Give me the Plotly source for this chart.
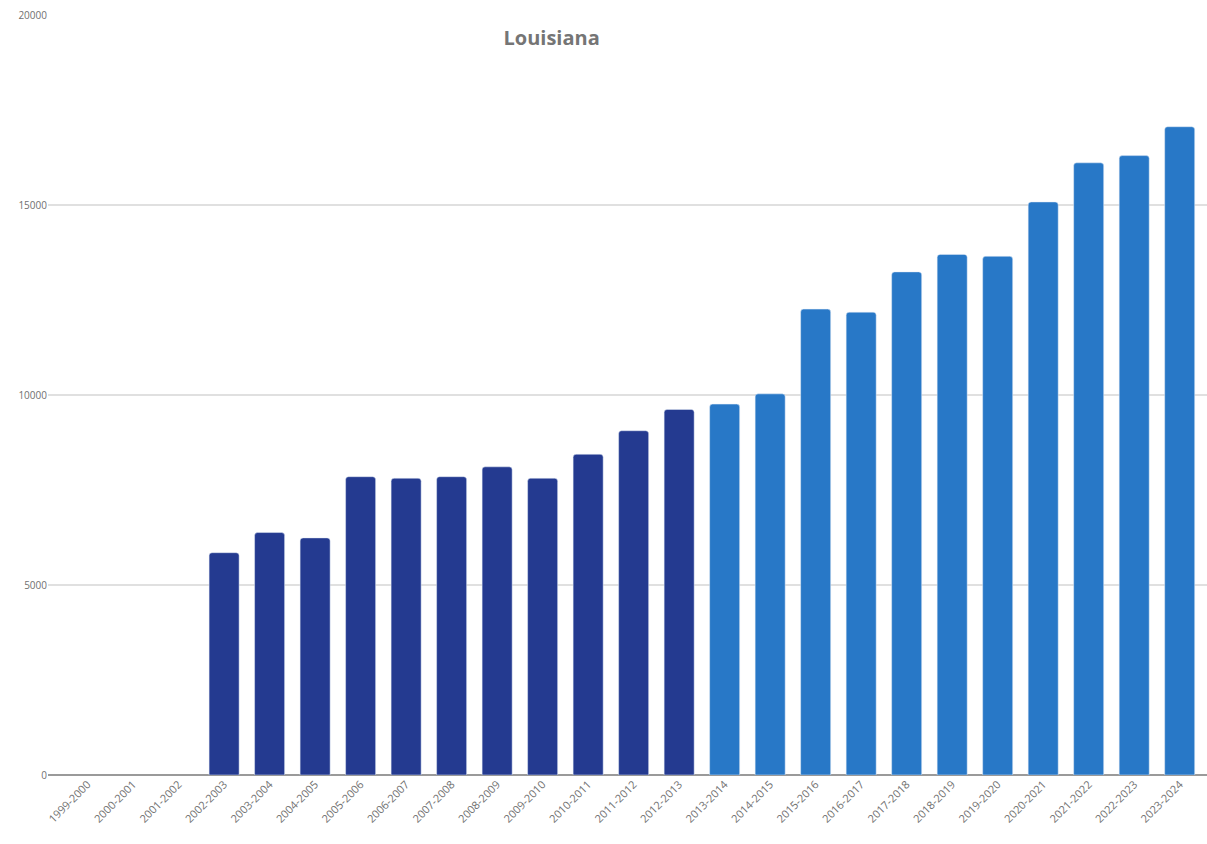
import plotly.graph_objects as go

years = ["1999-2000", "2000-2001", "2001-2002", "2002-2003", "2003-2004", "2004-2005",
         "2005-2006", "2006-2007", "2007-2008", "2008-2009", "2009-2010", "2010-2011",
         "2011-2012", "2012-2013", "2013-2014", "2014-2015", "2015-2016", "2016-2017",
         "2017-2018", "2018-2019", "2019-2020", "2020-2021", "2021-2022", "2022-2023",
         "2023-2024"]

early_values = [None, None, None, 5850, 6380, 6240, 7850, 7810, 7850, 8110, 7810, 8440,
                9060, 9620, None, None, None, None, None, None, None, None, None, None, None]
late_values = [None, None, None, None, None, None, None, None, None, None, None, None,
               None, None, 9760, 10030, 12260, 12180, 13240, 13700, 13650, 15080, 16110,
               16300, 17060]

y_ticks = [0, 5000, 10000, 15000, 20000]

fig = go.Figure()
fig.add_trace(go.Bar(x=years, y=early_values, marker_color="#243a90", width=0.66,
                     name="early"))
fig.add_trace(go.Bar(x=years, y=late_values, marker_color="#2878c7", width=0.66,
                     name="late"))

fig.update_layout(
    width=1207, height=844,
    margin=dict(l=48, r=0, t=15, b=69),
    barmode="overlay",
    barcornerradius=3,
    showlegend=False,
    plot_bgcolor="white",
    paper_bgcolor="white",
    font=dict(family="Open Sans, Arial, sans-serif", color="#707070"),
    title=dict(text="<b>Louisiana</b>", x=0.457, xanchor="center", y=0.955, yanchor="middle",
               font=dict(size=20, color="#757575")),
)
fig.update_xaxes(
    range=[-0.87, 24.6],
    tickangle=-45,
    tickfont=dict(size=11, color="#707070"),
    showgrid=False,
    showline=False,
    ticks="",
)
fig.update_yaxes(
    range=[0, 20000],
    tickvals=y_ticks,
    tickformat="d",
    tickfont=dict(size=10, color="#707070"),
    showgrid=True,
    gridcolor="#e0e0e0",
    gridwidth=1.5,
    zeroline=True,
    zerolinecolor="#9a9a9a",
    zerolinewidth=2,
    ticks="",
)

fig.write_html("out.html")
